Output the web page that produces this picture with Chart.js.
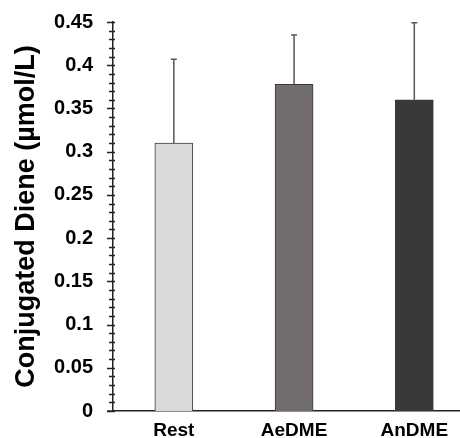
<!DOCTYPE html>
<html lang="en">
<head>
    <meta charset="UTF-8">
    <title>Conjugated Diene</title>
    <script src="https://cdn.jsdelivr.net/npm/chart.js@4.4.0/dist/chart.umd.min.js"></script>
    <style>
        body { margin: 0; background: #ffffff; }
        .chart-container { position: relative; width: 460px; height: 438px; }
    </style>
</head>
<body>
    <div class="chart-container">
        <canvas id="dieneChart"></canvas>
    </div>
    <script>
        // Data
        const categories = ['Rest', 'AeDME', 'AnDME'];
        const means = [0.31, 0.378, 0.36];
        const sds = [0.097, 0.057, 0.089];
        const barColors = ['#d9d9d9', '#736c6c', '#393939'];
        const yTicks = [0, 0.05, 0.1, 0.15, 0.2, 0.25, 0.3, 0.35, 0.4, 0.45];

        const FONT = '"Liberation Sans", Arial, sans-serif';

        // upper error bars + axis tick marks (major crosses the axis, minor shorter)
        const extras = {
            id: 'extras',
            afterDatasetsDraw(chart) {
                const ctx = chart.ctx;
                const x = chart.scales.x, y = chart.scales.y;
                ctx.save();
                ctx.strokeStyle = '#555555';
                ctx.lineWidth = 1.5;
                means.forEach((m, i) => {
                    const px = x.getPixelForValue(i);
                    const y0 = y.getPixelForValue(m);
                    const y1 = y.getPixelForValue(m + sds[i]);
                    ctx.beginPath();
                    ctx.moveTo(px, y0);
                    ctx.lineTo(px, y1);
                    ctx.moveTo(px - 3, y1);
                    ctx.lineTo(px + 3, y1);
                    ctx.stroke();
                });
                ctx.restore();
            },
            afterDraw(chart) {
                const ctx = chart.ctx;
                const y = chart.scales.y;
                const left = chart.chartArea.left;
                const bottom = chart.chartArea.bottom;
                ctx.save();
                ctx.strokeStyle = '#222222';
                ctx.lineWidth = 1.5;
                ctx.beginPath();
                for (let k = 0; k <= 45; k++) {
                    const py = Math.round(y.getPixelForValue(k / 100)) + 0.5;
                    const major = k % 5 === 0;
                    ctx.moveTo(left - (major ? 6 : 4), py);
                    ctx.lineTo(left + 2, py);
                }
                // x axis line runs a little past the y axis
                ctx.moveTo(left - 6, bottom);
                ctx.lineTo(left, bottom);
                ctx.stroke();
                ctx.restore();
            }
        };

        const ctx = document.getElementById('dieneChart').getContext('2d');
        new Chart(ctx, {
            type: 'bar',
            data: {
                datasets: [{
                    data: means.map((m, i) => ({ x: i, y: m })),
                    backgroundColor: barColors,
                    borderColor: '#3a3a3a',
                    borderWidth: 1,
                    barThickness: 38
                }]
            },
            options: {
                responsive: true,
                maintainAspectRatio: false,
                animation: false,
                layout: { padding: { top: 22, right: 0, left: 0, bottom: 0 } },
                plugins: {
                    legend: { display: false },
                    tooltip: { enabled: false }
                },
                scales: {
                    x: {
                        type: 'linear',
                        offset: false,
                        min: -0.506,
                        max: 2.38,
                        afterBuildTicks: (scale) => {
                            scale.ticks = categories.map((c, i) => ({ value: i }));
                        },
                        afterFit: (scale) => {
                            scale.height = 27;
                            scale.paddingLeft = 0;
                            scale.paddingRight = 0;
                        },
                        grid: { display: false, drawTicks: false, offset: false },
                        border: { display: true, color: '#222222', width: 1.5 },
                        ticks: {
                            autoSkip: false,
                            maxRotation: 0,
                            padding: 8,
                            color: '#000000',
                            font: { family: FONT, size: 19, weight: 'bold' },
                            callback: (v) => categories[v]
                        }
                    },
                    y: {
                        min: 0,
                        max: 0.45,
                        afterBuildTicks: (scale) => {
                            scale.ticks = yTicks.map(v => ({ value: v }));
                        },
                        afterFit: (scale) => {
                            scale.width = 113;
                            scale.paddingTop = 0;
                            scale.paddingBottom = 0;
                        },
                        grid: { display: false, drawTicks: false },
                        border: { display: true, color: '#222222', width: 1.5 },
                        ticks: {
                            padding: 20,
                            color: '#000000',
                            font: { family: FONT, size: 20, weight: 'bold' },
                            callback: (v) => String(+v.toFixed(2))
                        },
                        title: {
                            display: true,
                            text: 'Conjugated Diene (µmol/L)',
                            color: '#000000',
                            padding: { top: 10, bottom: 0 },
                            font: { family: FONT, size: 27, weight: 'bold' }
                        }
                    }
                }
            },
            plugins: [extras]
        });
    </script>
</body>
</html>
